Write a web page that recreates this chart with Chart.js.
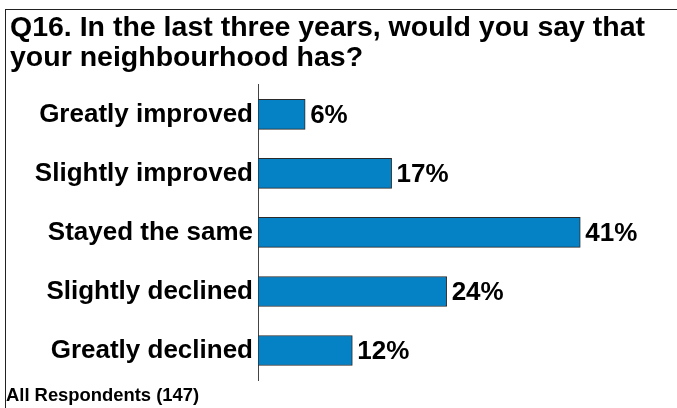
<!DOCTYPE html>
<html>
<head>
<meta charset="utf-8">
<script src="https://cdn.jsdelivr.net/npm/chart.js@4/dist/chart.umd.min.js"></script>
<style>
  html, body { margin: 0; padding: 0; background: #fff; }
  #wrap { position: relative; width: 677px; height: 408px; }
  #frame { position: absolute; left: 5px; top: 9px; right: 0; bottom: 0;
           border-top: 1px solid #222; border-left: 1px solid #222; pointer-events: none; }
  canvas { position: absolute; left: 0; top: 0; }
</style>
</head>
<body>
<div id="wrap">
  <canvas id="c" width="677" height="408"></canvas>
  <div id="frame"></div>
</div>
<script>
const titleLines = ['Q16. In the last three years, would you say that', 'your neighbourhood has?'];
const baseNote = 'All Respondents (147)';
const categories = ['Greatly improved', 'Slightly improved', 'Stayed the same', 'Slightly declined', 'Greatly declined'];
const percentages = [6, 17, 41, 24, 12];

const FONT = '"Liberation Sans", Arial, Helvetica, sans-serif';

// Writes each bar's percentage just past its end
const valueLabels = {
  id: 'valueLabels',
  afterDatasetsDraw(chart) {
    const ctx = chart.ctx;
    const meta = chart.getDatasetMeta(0);
    ctx.save();
    ctx.font = 'bold 26px ' + FONT;
    ctx.fillStyle = '#000';
    ctx.textAlign = 'left';
    ctx.textBaseline = 'middle';
    meta.data.forEach((bar, i) => {
      ctx.fillText(percentages[i] + '%', bar.x + 5, bar.y + 1);
    });
    ctx.restore();
  }
};

// Base size note in the bottom-left corner
const baseNoteText = {
  id: 'baseNoteText',
  afterDraw(chart) {
    const ctx = chart.ctx;
    ctx.save();
    ctx.font = 'bold 18.4px ' + FONT;
    ctx.fillStyle = '#000';
    ctx.textAlign = 'left';
    ctx.textBaseline = 'alphabetic';
    ctx.fillText(baseNote, 6, 401);
    ctx.restore();
  }
};

new Chart(document.getElementById('c'), {
  type: 'bar',
  data: {
    labels: categories,
    datasets: [{
      data: percentages,
      backgroundColor: '#0581C6',
      borderColor: '#2a2a2a',
      borderWidth: 1,
      borderSkipped: false,
      barThickness: 30
    }]
  },
  options: {
    indexAxis: 'y',
    responsive: false,
    animation: false,
    layout: { padding: { left: 10, right: 26, top: 13, bottom: 28 } },
    plugins: {
      legend: { display: false },
      tooltip: { enabled: false },
      title: {
        display: true,
        text: titleLines,
        align: 'start',
        color: '#000',
        font: { family: FONT, size: 28.5, weight: 'bold', lineHeight: 1.05 },
        padding: { top: 0, bottom: 12 }
      }
    },
    scales: {
      x: {
        display: false,
        min: 0,
        max: 50
      },
      y: {
        afterFit(scale) { scale.width = 248; },
        grid: { display: false, drawTicks: false },
        border: { display: true, color: '#444', width: 1 },
        ticks: {
          color: '#000',
          padding: 5,
          font: { family: FONT, size: 26, weight: 'bold' }
        }
      }
    }
  },
  plugins: [valueLabels, baseNoteText]
});
</script>
</body>
</html>
